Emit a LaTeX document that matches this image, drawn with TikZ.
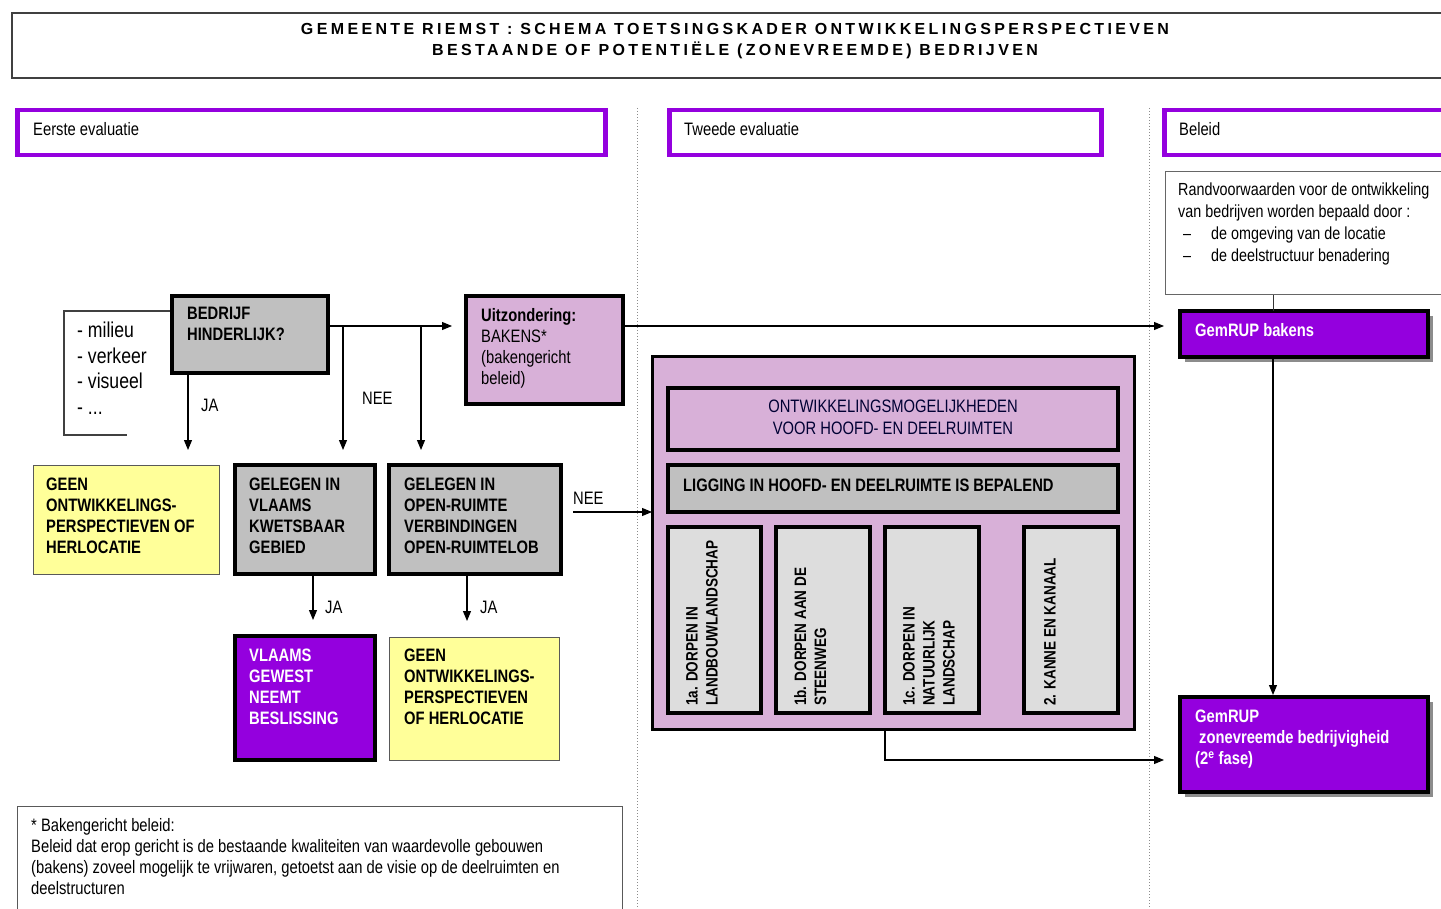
\documentclass[tikz,border=0pt]{standalone}
\usepackage{fontspec}
\setmainfont{Liberation Sans}[FakeStretch=0.82]
\newfontfamily\titlefont{Liberation Sans}[LetterSpace=21]
\usetikzlibrary{arrows.meta,shadows}
\definecolor{paars}{RGB}{148,0,222}
\definecolor{lila}{RGB}{216,176,216}
\definecolor{grijs}{RGB}{192,192,192}
\definecolor{lichtgrijs}{RGB}{221,221,221}
\definecolor{geel}{RGB}{255,255,153}
\newcommand\sz[2]{\fontsize{#1}{#2}\selectfont}

\begin{document}
\begin{tikzpicture}[x=1pt,y=-1pt,
  vak/.style={draw, anchor=north west, inner sep=0pt, outer sep=0pt},
  zwaar/.style={vak, line width=3.5pt},
  dun/.style={vak, draw=black!65, line width=1pt},
  kop/.style={vak, draw=paars, line width=4.5pt, minimum height=45pt},
  tekst/.style={anchor=north west, inner sep=0pt, align=left, font=\sz{18}{21}},
  vet/.style={tekst, font=\sz{18}{21}\bfseries},
  staand/.style={anchor=north west, inner sep=0pt, align=left, rotate=90, font=\sz{16.5}{20}\bfseries},
  pijl/.style={-{Triangle[length=10pt,width=8pt]}, line width=1.1pt},
  schaduw/.style={drop shadow={shadow xshift=5pt, shadow yshift=-5pt, fill=black!45, opacity=1}}]
    \useasboundingbox (0,0) rectangle (1441,909);

    % titel
    \node[vak, draw=black!75, line width=1.5pt, minimum width=1450, minimum height=65] (kader) at (12,13) {};
    \node[font=\titlefont\sz{16}{21}\bfseries, align=center, inner sep=0pt] (titel) at (735,41.5) {GEMEENTE RIEMST : SCHEMA TOETSINGSKADER ONTWIKKELINGSPERSPECTIEVEN\\BESTAANDE OF POTENTIËLE (ZONEVREEMDE) BEDRIJVEN};

    % kolommen
    \node[kop, minimum width=588] (eerste) at (17.5,110) {};
    \node[tekst] (eerstet) at (33,122.5) {Eerste evaluatie};
    \node[kop, minimum width=432] (tweede) at (669.5,110) {};
    \node[tekst] (tweedet) at (684,122.5) {Tweede evaluatie};
    \node[kop, minimum width=300] (beleid) at (1164.5,110) {};
    \node[tekst] (beleidt) at (1179,122.5) {Beleid};
    \draw[black!45, dotted, line width=1pt] (637,108) -- (637,909);
    \draw[black!45, dotted, line width=1pt] (1149,108) -- (1149,909);

    % eerste evaluatie
    \draw[black!75, line width=1.2pt] (172,311) -- (64,311) -- (64,435) -- (127,435);
    \node[tekst, font=\sz{21.5}{25.5}] (lijst) at (77,322) {- milieu\\- verkeer\\- visueel\\- ...};
    \node[zwaar, fill=grijs, minimum width=156, minimum height=77] (bedrijf) at (172,296) {};
    \node[vet] (bedrijft) at (187,306.5) {BEDRIJF\\HINDERLIJK?};
    \node[zwaar, fill=lila, minimum width=157, minimum height=108] (uitz) at (466,296) {};
    \node[tekst] (uitzt) at (481,308.5) {\textbf{Uitzondering:}\\BAKENS*\\(bakengericht\\beleid)};

    \node[dun, fill=geel, minimum width=186, minimum height=109] (geen) at (33,465) {};
    \node[vet] (geent) at (46,477.5) {GEEN\\ONTWIKKELINGS-\\PERSPECTIEVEN OF\\HERLOCATIE};
    \node[zwaar, fill=grijs, minimum width=140, minimum height=109] (kwets) at (235,465) {};
    \node[vet] (kwetst) at (249,477.5) {GELEGEN IN\\VLAAMS\\KWETSBAAR\\GEBIED};
    \node[zwaar, fill=grijs, minimum width=172, minimum height=109] (openr) at (389,465) {};
    \node[vet] (openrt) at (404,477.5) {GELEGEN IN\\OPEN-RUIMTE\\VERBINDINGEN\\OPEN-RUIMTELOB};

    \node[zwaar, fill=paars, minimum width=140, minimum height=124] (vlaams) at (235,636) {};
    \node[vet, text=white] (vlaamst) at (249,648.5) {VLAAMS\\GEWEST\\NEEMT\\BESLISSING};
    \node[dun, fill=geel, minimum width=170, minimum height=123] (geen2) at (389,637) {};
    \node[vet] (geen2t) at (404,648.5) {GEEN\\ONTWIKKELINGS-\\PERSPECTIEVEN\\OF HERLOCATIE};

    \coordinate (nee1) at (343,326);
    \coordinate (nee2) at (421,326);
    \coordinate (nee3) at (573,512);
    \draw[pijl, shorten >=15pt] ([xshift=16pt]bedrijf.south west) -- ([xshift=16pt]bedrijf.south west |- geen.north);
    \node[tekst] (ja1) at (201,398.5) {JA};
    \draw[pijl, shorten >=14pt] ([yshift=8.5pt]bedrijf.east) -- ([yshift=8.5pt]bedrijf.east -| uitz.west);
    \draw[pijl, shorten >=15pt] (nee1) -- (nee1 |- kwets.north);
    \draw[pijl, shorten >=15pt] (nee2) -- (nee2 |- openr.north);
    \node[tekst] (nee1t) at (362,391.5) {NEE};
    \draw[pijl, shorten >=16pt] ([xshift=8pt]kwets.south) -- ([xshift=8pt]kwets.south |- vlaams.north);
    \node[tekst] (ja2) at (325,600.5) {JA};
    \draw[pijl, shorten >=16pt] ([xshift=-8pt]openr.south) -- ([xshift=-8pt]openr.south |- geen2.north);
    \node[tekst] (ja3) at (480,600.5) {JA};

    \node[dun, minimum width=605, minimum height=110] (voet) at (17,806) {};
    \node[tekst] (voett) at (31,818.5) {* Bakengericht beleid:\\Beleid dat erop gericht is de bestaande kwaliteiten van waardevolle gebouwen\\(bakens) zoveel mogelijk te vrijwaren, getoetst aan de visie op de deelruimten en\\deelstructuren};

    % tweede evaluatie
    \node[vak, line width=3pt, fill=lila, minimum width=482, minimum height=372] (hoofd) at (652,357) {};
    \node[zwaar, fill=lila, minimum width=450, minimum height=62] (ontw) at (668,388) {};
    \node[align=center, inner sep=0pt, font=\sz{18}{22}, text=black!80!blue] (ontwt) at ([yshift=2pt]ontw.center) {ONTWIKKELINGSMOGELIJKHEDEN\\VOOR HOOFD- EN DEELRUIMTEN};
    \node[zwaar, fill=grijs, minimum width=450, minimum height=47] (ligg) at (668,465) {};
    \node[vet] (liggt) at (683,478.5) {LIGGING IN HOOFD- EN DEELRUIMTE IS BEPALEND};
    \node[zwaar, fill=lichtgrijs, minimum width=93, minimum height=186] (d1a) at (668,527) {};
    \node[zwaar, fill=lichtgrijs, minimum width=94, minimum height=186] (d1b) at (776,527) {};
    \node[zwaar, fill=lichtgrijs, minimum width=94, minimum height=186] (d1c) at (885,527) {};
    \node[zwaar, fill=lichtgrijs, minimum width=94, minimum height=186] (d2) at (1024,527) {};
    \node[staand] (d1at) at (686,706) {1a. DORPEN IN\\LANDBOUWLANDSCHAP};
    \node[staand] (d1bt) at (794,706) {1b. DORPEN AAN DE\\STEENWEG};
    \node[staand] (d1ct) at (903,706) {1c. DORPEN IN\\NATUURLIJK\\LANDSCHAP};
    \node[staand] (d2t) at (1044,706) {2. KANNE EN KANAAL};
    \draw[pijl] (nee3) -- (nee3 -| hoofd.west);
    \node[tekst] (nee2t) at (573,491.5) {NEE};

    % beleid
    \node[vak, draw=black!60, line width=1pt, minimum width=300, minimum height=123] (rand) at (1165,172) {};
    \node[tekst, font=\sz{17.5}{22}] (randt) at (1178,182.5) {Randvoorwaarden voor de ontwikkeling\\van bedrijven worden bepaald door :\\\hspace*{5pt}\makebox[28pt][l]{--}de omgeving van de locatie\\\hspace*{5pt}\makebox[28pt][l]{--}de deelstructuur benadering};
    \node[zwaar, fill=paars, schaduw, minimum width=248, minimum height=46] (bakens) at (1180,311) {};
    \node[vet, text=white] (bakenst) at (1195,323.5) {GemRUP bakens};
    \node[zwaar, fill=paars, schaduw, minimum width=248, minimum height=95] (zonev) at (1180,697) {};
    \node[vet, text=white] (zonevt) at (1195,710) {GemRUP\\\hspace*{4pt}zonevreemde bedrijvigheid\\(2\textsuperscript{e} fase)};
    \draw[black!80, line width=1pt] ([xshift=-31pt]bakens.north) -- ([xshift=-31pt]bakens.north |- rand.south);
    \draw[pijl, shorten >=2pt] ([xshift=-31pt]bakens.south) -- ([xshift=-31pt]zonev.north);
    \draw[pijl, shorten >=16pt] ([yshift=24pt]uitz.east) -- ([yshift=24pt]uitz.east -| bakens.west);
    \draw[pijl, shorten >=16pt] ([xshift=-8pt]hoofd.south) |- ([yshift=-15.5pt]zonev.west);

\end{tikzpicture}
\end{document}
